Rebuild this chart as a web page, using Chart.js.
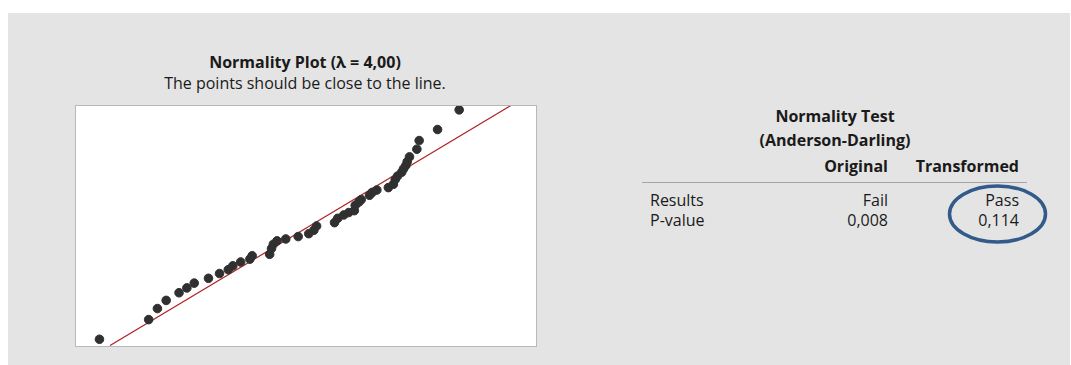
<!DOCTYPE html>
<html>
<head>
<meta charset="utf-8">
<script src="https://cdn.jsdelivr.net/npm/chart.js@4.4.1/dist/chart.umd.min.js"></script>
<style>
  html, body { margin: 0; padding: 0; background: #ffffff; }
  body { width: 1071px; height: 365px; position: relative; overflow: hidden;
         font-family: "Open Sans", "Noto Sans", "DejaVu Sans", sans-serif; color: #1a1a1a; }
  #panel { position: absolute; left: 8px; top: 13px; width: 1062px; height: 352px; background: #e4e4e4; }
  .t { position: absolute; white-space: nowrap; font-size: 16px; line-height: 20px; }
  .b { font-weight: 700; }
  .c { transform: translateX(-50%); }
  .r { transform: translateX(-100%); }
  #plotBox { position: absolute; left: 75px; top: 105px; width: 460px; height: 240px;
             background: #ffffff; border: 1.5px solid #b8b8b8; }
  #plotBox canvas { display: block; }
  #rule { position: absolute; left: 642px; top: 182px; width: 385px; height: 1px; background: #a6a6a6; }
  #mark { position: absolute; left: 0; top: 0; }
</style>
</head>
<body>
<div id="panel"></div>

<div class="t b c" style="left:305px; top:52px;">Normality Plot (λ = 4,00)</div>
<div class="t c" style="left:305px; top:73px;">The points should be close to the line.</div>

<div id="plotBox"><canvas id="plot" width="460" height="240"></canvas></div>

<div class="t b c" style="left:835px; top:106px;">Normality Test</div>
<div class="t b c" style="left:835px; top:130px;">(Anderson-Darling)</div>
<div class="t b r" style="left:888px; top:156px;">Original</div>
<div class="t b r" style="left:1019px; top:156px;">Transformed</div>
<div id="rule"></div>
<div class="t" style="left:650px; top:190px;">Results</div>
<div class="t" style="left:650px; top:210px;">P-value</div>
<div class="t r" style="left:888px; top:190px;" id="origResult"></div>
<div class="t r" style="left:888px; top:210px;" id="origP"></div>
<div class="t r" style="left:1019px; top:190px;" id="transResult"></div>
<div class="t r" style="left:1019px; top:210px;" id="transP"></div>

<svg id="mark" width="1071" height="365">
  <ellipse cx="997.5" cy="214" rx="48" ry="28" fill="none" stroke="#325a8a" stroke-width="3.5"/>
</svg>

<script>
// Transformed values (λ = 4) and their normal scores
const transformedValues = [5.1, 15.8, 17.7, 19.6, 22.4, 24.1, 25.7, 28.8, 31.2, 33.1,
  34.1, 35.8, 37.8, 38.3, 42.1, 42.5, 42.9, 43.7, 45.6, 48.3,
  50.6, 51.7, 52.3, 56.2, 56.9, 58.2, 59.3, 60.5, 60.7, 61.5,
  62.0, 63.8, 64.4, 65.4, 67.9, 69.0, 69.4, 69.9, 70.8, 71.2,
  71.7, 72.0, 72.5, 74.1, 74.6, 78.6, 83.3];
const normalScores = [-2.36, -1.95, -1.72, -1.55, -1.39, -1.29, -1.19, -1.09, -0.99, -0.91,
  -0.83, -0.75, -0.69, -0.62, -0.59, -0.47, -0.38, -0.31, -0.27, -0.22,
  -0.16, -0.09, 0.00, 0.07, 0.16, 0.23, 0.28, 0.32, 0.43, 0.50,
  0.55, 0.64, 0.70, 0.75, 0.80, 0.87, 0.97, 1.04, 1.12, 1.19,
  1.26, 1.34, 1.44, 1.60, 1.78, 2.01, 2.42];

// Fitted normal reference line (end points)
const fitX = [7.4, 94.7];
const fitZ = [-2.49, 2.52];

// Anderson-Darling results
const testColumns = ['Original', 'Transformed'];
const testResults = ['Fail', 'Pass'];
const testPValues = ['0,008', '0,114'];

document.getElementById('origResult').textContent = testResults[0];
document.getElementById('transResult').textContent = testResults[1];
document.getElementById('origP').textContent = testPValues[0];
document.getElementById('transP').textContent = testPValues[1];

new Chart(document.getElementById('plot'), {
  type: 'scatter',
  data: {
    datasets: [
      {
        type: 'line',
        data: fitX.map((x, i) => ({ x: x, y: fitZ[i] })),
        borderColor: '#b02323',
        borderWidth: 1.2,
        pointRadius: 0,
        fill: false,
        order: 2
      },
      {
        data: transformedValues.map((x, i) => ({ x: x, y: normalScores[i] })),
        backgroundColor: '#303030',
        borderColor: '#303030',
        pointRadius: 4.3,
        pointHoverRadius: 4.3,
        order: 1,
        clip: 6
      }
    ]
  },
  options: {
    responsive: false,
    animation: false,
    events: [],
    layout: { padding: 0, autoPadding: false },
    plugins: { legend: { display: false }, tooltip: { enabled: false }, title: { display: false } },
    scales: {
      x: { type: 'linear', min: 0, max: 100, display: false },
      y: { type: 'linear', min: -2.5, max: 2.5, display: false }
    }
  }
});
</script>
</body>
</html>
